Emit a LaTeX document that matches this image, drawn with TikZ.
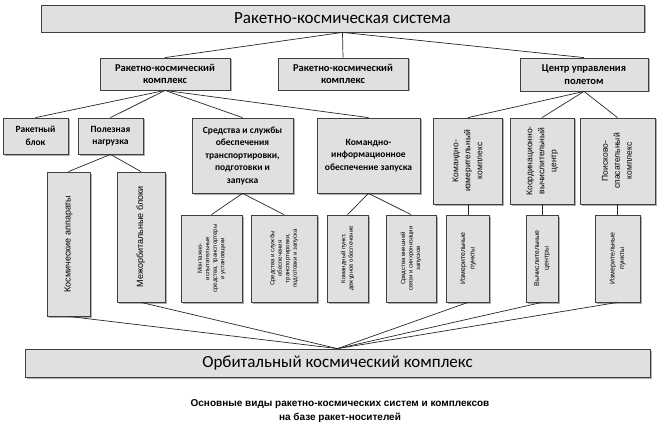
\documentclass[tikz,border=0pt]{standalone}
\usepackage{fontspec}
\usepackage{graphicx}
\usepackage{tikz}
\setmainfont{Carlito}
\newfontfamily\arialfont{Liberation Sans}
\usetikzlibrary{shadows}

\newcommand{\vlab}[1]{\rotatebox{90}{\begin{tabular}{@{}c@{}}#1\end{tabular}}}

\begin{document}
\begin{tikzpicture}[x=1pt, y=-1pt,
    box/.style={draw=black!75, fill=black!12, line width=0.8pt, inner sep=1pt,
        align=center, drop shadow={shadow xshift=1.5pt, shadow yshift=-1.5pt, fill=black!45, opacity=.7}},
    big/.style={box, font=\fontsize{17}{20}\selectfont},
    mid/.style={box, font=\fontsize{10.5}{12.5}\selectfont\bfseries},
    small/.style={box, font=\fontsize{9.5}{12.5}\selectfont\bfseries},
    vert/.style={box, font=\arialfont\fontsize{8.5}{12}\selectfont},
    tiny/.style={box, font=\arialfont\fontsize{6}{7.5}\selectfont},
    link/.style={line width=0.7pt, black!85}]
    \useasboundingbox (0,0) rectangle (662,428);

    % Top level
    \node[big, minimum width=603pt, minimum height=27pt] (sys) at (342.5,18.5) {Ракетно-космическая система};

    % Level 2
    \node[mid, minimum width=130pt, minimum height=32pt] (rkk1) at (165,74) {Ракетно-космический\\комплекс};
    \node[mid, minimum width=130pt, minimum height=32pt] (rkk2) at (343,74) {Ракетно-космический\\комплекс};
    \node[mid, minimum width=128pt, minimum height=33pt] (cup) at (584,74.5) {Центр управления\\полетом};

    % Level 3
    \node[small, minimum width=65pt, minimum height=36pt] (rb) at (35.5,136) {Ракетный\\блок};
    \node[small, minimum width=65pt, minimum height=36pt] (pn) at (110.5,136) {Полезная\\нагрузка};
    \node[small, minimum width=101pt, minimum height=75pt] (ssob) at (242.5,155.5)
        {Средства и службы\\обеспечения\\транспортировки,\\подготовки и\\запуска};
    \node[small, minimum width=103pt, minimum height=75pt] (kio) at (368.5,155.5)
        {Командно-\\информационное\\обеспечение запуска};
    \node[vert, minimum width=69pt, minimum height=86pt] (kik) at (468,161)
        {\vlab{Командно-\\измерительный\\комплекс}};
    \node[vert, minimum width=64pt, minimum height=86pt] (kvc) at (542,161)
        {\vlab{Координационно-\\вычислительный\\центр}};
    \node[vert, minimum width=75pt, minimum height=86pt] (psk) at (617.5,161)
        {\vlab{Поисково-\\спасательный\\комплекс}};

    % Level 4
    \node[vert, minimum width=43pt, minimum height=144pt, font=\arialfont\fontsize{9}{11}\selectfont] (ka) at (68.5,244)
        {\vlab{Космические аппараты}};
    \node[vert, minimum width=48pt, minimum height=130pt, font=\arialfont\fontsize{9}{11}\selectfont] (mob) at (141,237)
        {\vlab{Межорбитальные блоки}};
    \node[tiny, minimum width=61pt, minimum height=87pt] (mis) at (211.5,258.5)
        {\vlab{Монтажно-\\испытательные\\средства, транспортеры\\и установщики}};
    \node[tiny, minimum width=66pt, minimum height=87pt] (sst) at (284,258.5)
        {\vlab{Средства и службы\\обеспечения\\транспортировки,\\подготовки и запуска}};
    \node[tiny, minimum width=41pt, minimum height=87pt] (kp) at (347.5,258.5)
        {\vlab{Командный пункт,\\дежурное обеспечение}};
    \node[tiny, minimum width=50pt, minimum height=87pt] (svs) at (411,258.5)
        {\vlab{Средства внешней\\связи и синхронизации\\запусков}};
    \node[tiny, minimum width=43pt, minimum height=87pt, font=\arialfont\fontsize{7}{9.5}\selectfont] (ip1) at (468,258.5)
        {\vlab{Измерительные\\пункты}};
    \node[tiny, minimum width=32pt, minimum height=87pt, font=\arialfont\fontsize{7}{9.5}\selectfont] (vc) at (542,258.5)
        {\vlab{Вычислительные\\центры}};
    \node[tiny, minimum width=45pt, minimum height=87pt, font=\arialfont\fontsize{7}{9.5}\selectfont] (ip2) at (617.5,258.5)
        {\vlab{Измерительные\\пункты}};

    % Bottom
    \node[big, minimum width=625pt, minimum height=28pt] (okk) at (337.5,363) {Орбитальный космический комплекс};

    \node[font=\arialfont\fontsize{10}{14}\selectfont\bfseries, align=center] (cap) at (340,411)
        {Основные виды ракетно-космических систем и комплексов\\на базе ракет-носителей};

    % Links
    \foreach \t in {rkk1,rkk2,cup} \draw[link] (sys.south) -- (\t.north);
    \foreach \t in {rb,pn,ssob,kio} \draw[link] (rkk1.south) -- (\t.north);
    \foreach \t in {kik,kvc,psk} \draw[link] (cup.south) -- (\t.north);
    \foreach \t in {ka,mob} \draw[link] (pn.south) -- (\t.north);
    \foreach \t in {mis,sst} \draw[link] (ssob.south) -- (\t.north);
    \foreach \t in {kp,svs} \draw[link] (kio.south) -- (\t.north);
    \draw[link] (kik.south) -- (ip1.north);
    \draw[link] (kvc.south) -- (vc.north);
    \draw[link] (psk.south) -- (ip2.north);
    \foreach \t in {ka,mob,ip1,vc,ip2} \draw[link] (\t.south) -- (okk.north);
\end{tikzpicture}
\end{document}
